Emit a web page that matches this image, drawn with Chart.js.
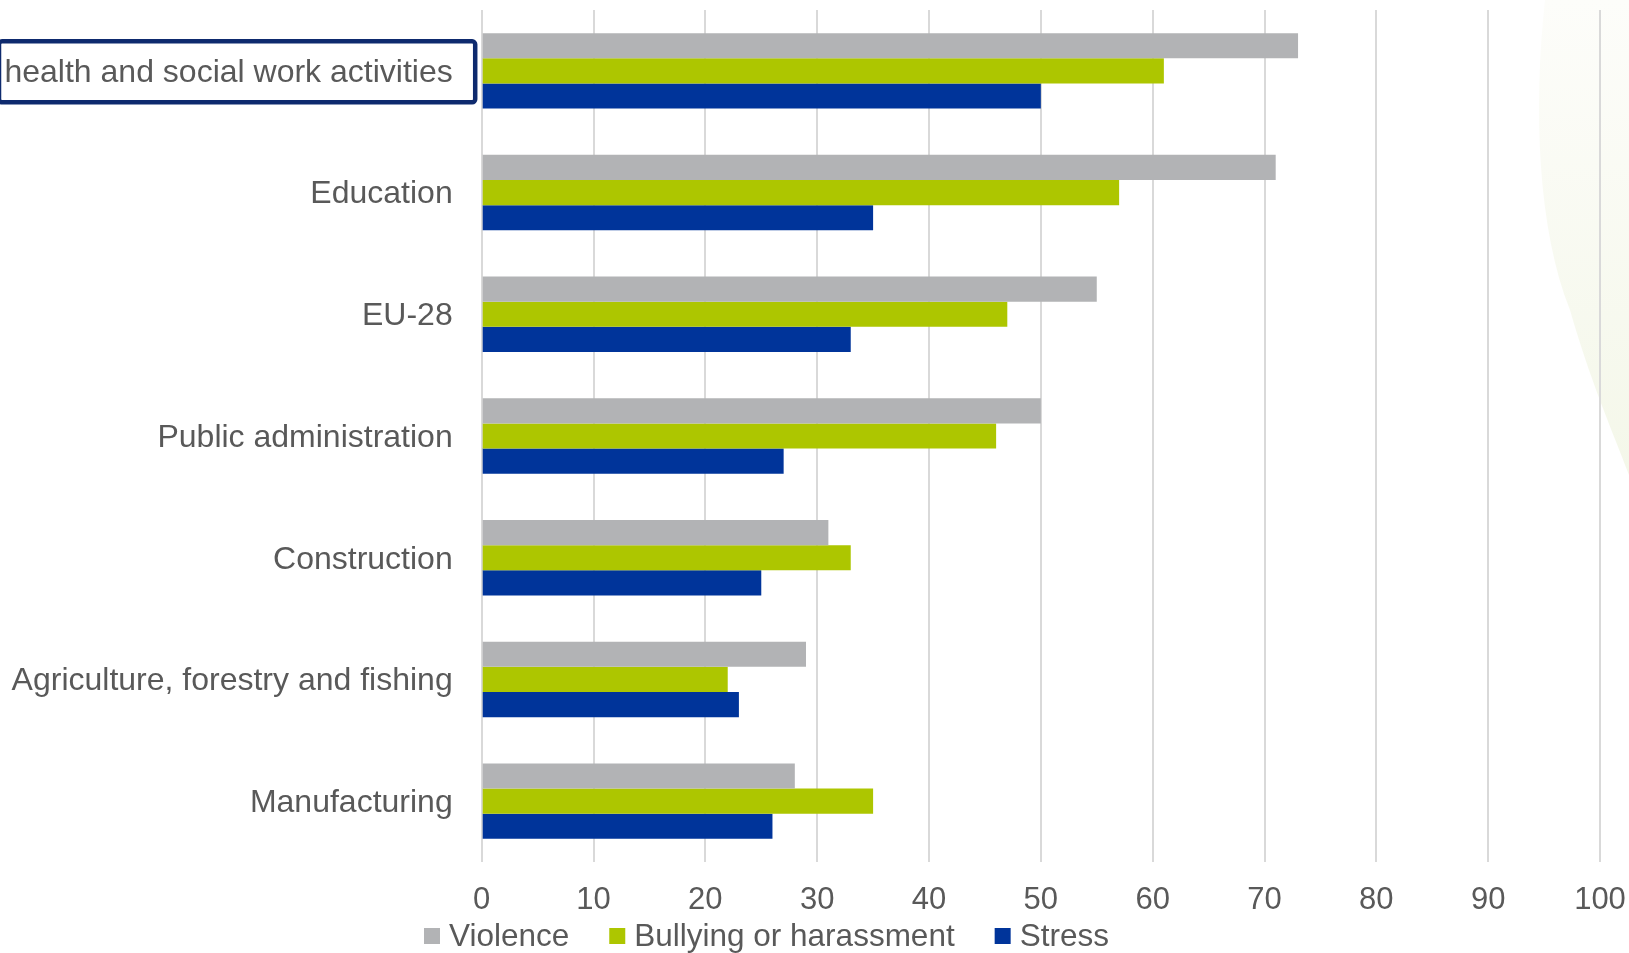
<!DOCTYPE html>
<html>
<head>
<meta charset="utf-8">
<title>Violence, bullying and stress by sector</title>
<script src="https://cdn.jsdelivr.net/npm/chart.js@4.4.1/dist/chart.umd.min.js"></script>
<style>
  html, body { margin: 0; padding: 0; background: #ffffff; }
  #wrap { width: 1629px; height: 953px; position: relative; }
  canvas { display: block; }
</style>
</head>
<body>
<div id="wrap"><canvas id="chart" width="1629" height="953"></canvas></div>
<script>
// Sectors, top to bottom
const sectors = [
  'health and social work activities',
  'Education',
  'EU-28',
  'Public administration',
  'Construction',
  'Agriculture, forestry and fishing',
  'Manufacturing'
];

// Share of establishments reporting each risk (%)
const violence = [73, 71, 55, 50, 31, 29, 28];
const bullying = [61, 57, 47, 46, 33, 22, 35];
const stress   = [50, 35, 33, 27, 25, 23, 26];

const seriesNames = ['Violence', 'Bullying or harassment', 'Stress'];

// Value axis
const axisMin = 0;
const axisMax = 100;
const axisStep = 10;

const FONT = '"Liberation Sans", Arial, Helvetica, sans-serif';
const TEXT = '#595959';
const COLORS = ['#B2B3B5', '#ADC600', '#00349A'];

Chart.defaults.font.family = FONT;
Chart.defaults.color = TEXT;

// Soft curved backdrop at the right edge
const backdrop = {
  id: 'backdrop',
  beforeDraw(chart) {
    const ctx = chart.ctx;
    const w = chart.width, h = chart.height;
    ctx.save();
    ctx.fillStyle = '#ffffff';
    ctx.fillRect(0, 0, w, h);
    const g = ctx.createLinearGradient(0, 0, 0, 480);
    g.addColorStop(0, '#fdfdfa');
    g.addColorStop(1, '#f4f7e9');
    ctx.fillStyle = g;
    ctx.beginPath();
    ctx.moveTo(1545, 0);
    ctx.bezierCurveTo(1533, 110, 1538, 230, 1570, 310);
    ctx.bezierCurveTo(1590, 380, 1612, 430, w, 475);
    ctx.lineTo(w, 0);
    ctx.closePath();
    ctx.fill();
    ctx.restore();
  }
};

// Frame around the first sector label
const highlight = {
  id: 'highlight',
  afterDraw(chart) {
    const y = chart.scales.y;
    const ctx = chart.ctx;
    const cy = y.getPixelForValue(0) + 1;
    const right = chart.chartArea.left - 6.5;
    const left = -1;
    const top = cy - 30.5, bottom = cy + 30.5;
    ctx.save();
    ctx.strokeStyle = '#0E2A6E';
    ctx.lineWidth = 4.5;
    ctx.beginPath();
    ctx.roundRect(left, top, right - left, bottom - top, 3);
    ctx.stroke();
    ctx.restore();
  }
};

// Legend row under the axis, built from the datasets
const legendRow = {
  id: 'legendRow',
  afterDraw(chart) {
    const ctx = chart.ctx;
    const cy = 936;
    let x = 424;
    ctx.save();
    ctx.font = '31.5px ' + FONT;
    ctx.textBaseline = 'middle';
    ctx.textAlign = 'left';
    chart.data.datasets.forEach(ds => {
      ctx.fillStyle = ds.backgroundColor;
      ctx.fillRect(x, cy - 8, 16, 16);
      ctx.fillStyle = TEXT;
      ctx.fillText(ds.label, x + 25, cy + 1);
      x += 25 + ctx.measureText(ds.label).width + 40;
    });
    ctx.restore();
  }
};

new Chart(document.getElementById('chart'), {
  type: 'bar',
  data: {
    labels: sectors,
    datasets: [
      { label: seriesNames[0], data: violence, backgroundColor: COLORS[0] },
      { label: seriesNames[1], data: bullying, backgroundColor: COLORS[1] },
      { label: seriesNames[2], data: stress,   backgroundColor: COLORS[2] }
    ]
  },
  options: {
    indexAxis: 'y',
    responsive: false,
    animation: false,
    devicePixelRatio: 1,
    layout: { padding: { top: 10, right: 29, left: 0, bottom: 0 } },
    datasets: {
      bar: { categoryPercentage: 0.62, barPercentage: 1.0, borderWidth: 0 }
    },
    plugins: {
      legend: { display: false },
      tooltip: { enabled: false }
    },
    scales: {
      x: {
        min: axisMin,
        max: axisMax,
        ticks: {
          stepSize: axisStep,
          color: TEXT,
          font: { size: 31 },
          padding: 20,
          maxRotation: 0
        },
        grid: { color: '#D9D9D9', lineWidth: 2, drawTicks: false },
        border: { display: false },
        afterFit(scale) {
          scale.height = 91;
          scale.paddingLeft = 0;
          scale.paddingRight = 0;
        }
      },
      y: {
        ticks: { color: TEXT, font: { size: 32 }, padding: 29, autoSkip: false, labelOffset: 2 },
        grid: { display: false, drawTicks: false },
        border: { display: false },
        afterFit(scale) {
          scale.width = 481.7;
          scale.paddingTop = 0;
          scale.paddingBottom = 0;
        }
      }
    }
  },
  plugins: [backdrop, highlight, legendRow]
});
</script>
</body>
</html>
